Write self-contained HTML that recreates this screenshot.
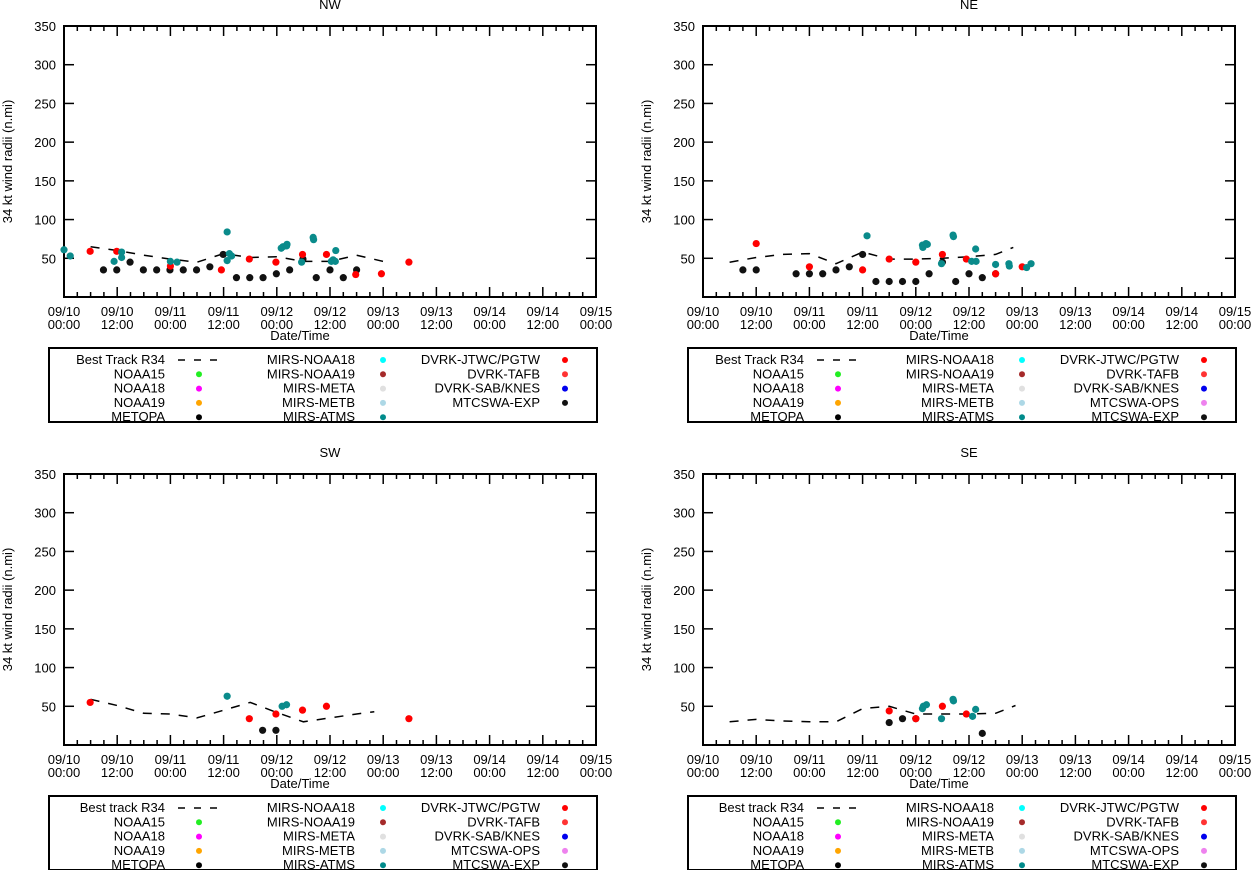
<!DOCTYPE html>
<html><head><meta charset="utf-8"><style>
body{margin:0;background:#fff;}
svg{display:block;font-family:"Liberation Sans",sans-serif;}
</style></head><body>
<svg id="chart" width="1253" height="870" viewBox="0 0 1253 870"></svg>
<script>
// hours since 09/10 00:00, values in n.mi
const nwBestH=[6,12,18,24,30,36,42,48,54,60,66,72];
const nwBestV=[65,60,54,49,45,56,51,52,46,46,54,46];
const nwTealH=[0,1.4,11.3,13,13,24,25.5,36.8,36.8,37.3,37.8,49,49.4,50.2,50.3,53.6,56.2,56.3,60.3,60.7,61.2,61.3];
const nwTealV=[61,53,46,58,51,46,45,84,47,56,53,63,65,66,68,45,77,74,46,48,46,60];
const nwRedH=[5.9,11.9,24,35.5,41.8,47.8,53.8,59.2,65.8,71.6,77.8];
const nwRedV=[59,59,40,35,49,45,55,55,29,30,45];
const nwBlackH=[8.9,11.9,14.9,17.9,20.9,23.9,26.9,29.9,32.9,35.9,38.9,41.9,44.9,47.9,50.9,53.9,56.9,60,63,66];
const nwBlackV=[35,35,45,35,35,35,35,35,39,55,25,25,25,30,35,49,25,35,25,35];

const neBestH=[6,12,18,24,30,36,42,48,54,60,66,70];
const neBestV=[45,51,55,56,43,58,49,49,50,52,55,64];
const neTealH=[37,49.5,49.6,50.3,50.6,53.8,56.4,56.5,60.6,61.5,61.6,66,69,69.1,73,74];
const neTealV=[79,67,64,69,68,43,80,78,46,62,46,42,43,40,38,43];
const neRedH=[12,24,36,42,48,54,59.4,66,72];
const neRedV=[69,39,35,49,45,55,49,30,39];
const neBlackH=[9,12,21,24,27,30,33,36,39,42,45,48,51,54,57,60,63,66];
const neBlackV=[35,35,30,30,30,35,39,55,20,20,20,20,30,45,20,30,25,30];

const swBestH=[6,12,18,24,30,36,42,48,54,60,66,70];
const swBestV=[59,51,41,40,35,45,55,42,30,35,40,43];
const swTealH=[36.8,49.2,50.2];
const swTealV=[63,50,52];
const swRedH=[5.9,41.8,47.8,53.8,59.2,77.8];
const swRedV=[55,34,40,45,50,34];
const swBlackH=[44.8,47.8];
const swBlackV=[19,19];

const seBestH=[6,12,18,24,30,36,42,48,54,60,66,70.5];
const seBestV=[30,33,31,30,30,47,50,40,40,40,41,51];
const seTealH=[49.5,49.7,50.4,53.8,56.4,56.5,60.8,61.5];
const seTealV=[47,50,52,34,59,57,37,46];
const seRedH=[42,48,54,59.4];
const seRedV=[44,34,50,40];
const seBlackH=[42,45,48,63];
const seBlackV=[29,34,34,15];

const yTicks=[50,100,150,200,250,300,350];
const xTickDates=["09/10","09/10","09/11","09/11","09/12","09/12","09/13","09/13","09/14","09/14","09/15"];
const xTickTimes=["00:00","12:00","00:00","12:00","00:00","12:00","00:00","12:00","00:00","12:00","00:00"];

const col1=["NOAA15","NOAA18","NOAA19","METOPA"];
const col1c=["#22ee22","#ff00ff","#ffa500","#000"];
const col2=["MIRS-NOAA18","MIRS-NOAA19","MIRS-META","MIRS-METB","MIRS-ATMS"];
const col2c=["#00ffff","#a52a2a","#e0e0e0","#add8e6","#008b8b"];
const col3a=["DVRK-JTWC/PGTW","DVRK-TAFB","DVRK-SAB/KNES","MTCSWA-EXP"];
const col3ac=["#ff0000","#ff3333","#0000ee","#111"];
const col3b=["DVRK-JTWC/PGTW","DVRK-TAFB","DVRK-SAB/KNES","MTCSWA-OPS","MTCSWA-EXP"];
const col3bc=["#ff0000","#ff3333","#0000ee","#ee82ee","#111"];

const NS="http://www.w3.org/2000/svg";
const svg=document.getElementById('chart');
function mk(tag,attrs,parent){const e=document.createElementNS(NS,tag);for(const k in attrs)e.setAttribute(k,attrs[k]);(parent||svg).appendChild(e);return e;}
function txt(s,x,y,anchor,parent,name){const t=mk('text',{x:x,y:y,'font-size':13,'text-anchor':anchor||'middle',fill:'#000'},parent);t.textContent=s;


return t;}

const panels=[
 {key:'nw',title:'NW',x0:64,top:26,bh:nwBestH,bv:nwBestV,th:nwTealH,tv:nwTealV,rh:nwRedH,rv:nwRedV,kh:nwBlackH,kv:nwBlackV,best:'Best Track R34',c3:col3a,c3c:col3ac},
 {key:'ne',title:'NE',x0:703,top:26,bh:neBestH,bv:neBestV,th:neTealH,tv:neTealV,rh:neRedH,rv:neRedV,kh:neBlackH,kv:neBlackV,best:'Best Track R34',c3:col3b,c3c:col3bc},
 {key:'sw',title:'SW',x0:64,top:474,bh:swBestH,bv:swBestV,th:swTealH,tv:swTealV,rh:swRedH,rv:swRedV,kh:swBlackH,kv:swBlackV,best:'Best track R34',c3:col3b,c3c:col3bc},
 {key:'se',title:'SE',x0:703,top:474,bh:seBestH,bv:seBestV,th:seTealH,tv:seTealV,rh:seRedH,rv:seRedV,kh:seBlackH,kv:seBlackV,best:'Best track R34',c3:col3b,c3c:col3bc}
];
const W=532,H=271;
panels.forEach(p=>{
 const g=mk('g',{});
 
 
 const X=h=>p.x0+h*W/120, Y=v=>p.top+H-v*H/350;
 const bot=p.top+H, right=p.x0+W;
 txt(p.title,p.x0+W/2,p.top-17,'middle',g,p.key+'-title');
 // ticks
 for(let i=0;i<=40;i++){const x=X(i*3);const L=(i%4==0)?10:5;
  mk('line',{x1:x,y1:bot,x2:x,y2:bot-L,stroke:'#000','stroke-width':1.5},g);
  mk('line',{x1:x,y1:p.top,x2:x,y2:p.top+L,stroke:'#000','stroke-width':1.5},g);}
 yTicks.forEach(v=>{const y=Y(v);
  mk('line',{x1:p.x0,y1:y,x2:p.x0+10,y2:y,stroke:'#000','stroke-width':1.5},g);
  mk('line',{x1:right,y1:y,x2:right-10,y2:y,stroke:'#000','stroke-width':1.5},g);
  txt(String(v),p.x0-8,y+5,'end',g,p.key+'-y-tick-label');});
 xTickDates.forEach((d,i)=>{const x=X(i*12);
  txt(d,x,bot+19,'middle',g,p.key+'-x-tick-date');
  txt(xTickTimes[i],x,bot+32,'middle',g,p.key+'-x-tick-time');});
 const fr=mk('rect',{x:p.x0,y:p.top,width:W,height:H,fill:'none',stroke:'#000','stroke-width':2},g);
 
 
 txt('Date/Time',p.x0+W/2-30,bot+43,'middle',g,p.key+'-x-axis-title');
 const yl=txt('34 kt wind radii (n.mi)',0,0,'middle',g,p.key+'-y-axis-title');
 yl.setAttribute('transform','translate('+(p.x0-52)+','+(p.top+H/2)+') rotate(-90)');
 // best track
 const d=p.bh.map((h,i)=>(i?'L':'M')+X(h).toFixed(1)+' '+Y(p.bv[i]).toFixed(1)).join(' ');
 const bl=mk('path',{d:d,fill:'none',stroke:'#000','stroke-width':1.5,'stroke-dasharray':'9,9'},g);
 
 
 const series=[[p.kh,p.kv,'#111','mtcswa-exp'],[p.rh,p.rv,'#ff0000','dvrk-jtwc'],[p.th,p.tv,'#0a8b8b','mirs-atms']];
 series.forEach(s=>{s[0].forEach((h,i)=>{
  const c=mk('circle',{cx:X(h),cy:Y(s[1][i]),r:3.6,fill:s[2]},g);
  
  });});
 // legend
 const lx=p.x0-15, ly=bot+51;
 const lg=mk('g',{},g);
 
 
 mk('rect',{x:lx,y:ly,width:548,height:74,fill:'#fff',stroke:'#000','stroke-width':2},lg);
 const rowY=i=>ly+12+i*14.3;
 txt(p.best,lx+116,rowY(0)+4,'end',lg,p.key+'-legend-best-track');
 mk('line',{x1:lx+129,y1:rowY(0),x2:lx+168,y2:rowY(0),stroke:'#000','stroke-width':1.5,'stroke-dasharray':'7,9'},lg);
 const cols=[[col1,col1c,116,150,1],[col2,col2c,306,334,0],[p.c3,p.c3c,491,516,0]];
 cols.forEach(c=>{c[0].forEach((s,i)=>{const r=i+c[4];
  txt(s,lx+c[2],rowY(r)+4,'end',lg,p.key+'-legend-entry');
  const dot=mk('circle',{cx:lx+c[3],cy:rowY(r),r:3,fill:c[1][i]},lg);
  
  });});
});
</script>
</body></html>
